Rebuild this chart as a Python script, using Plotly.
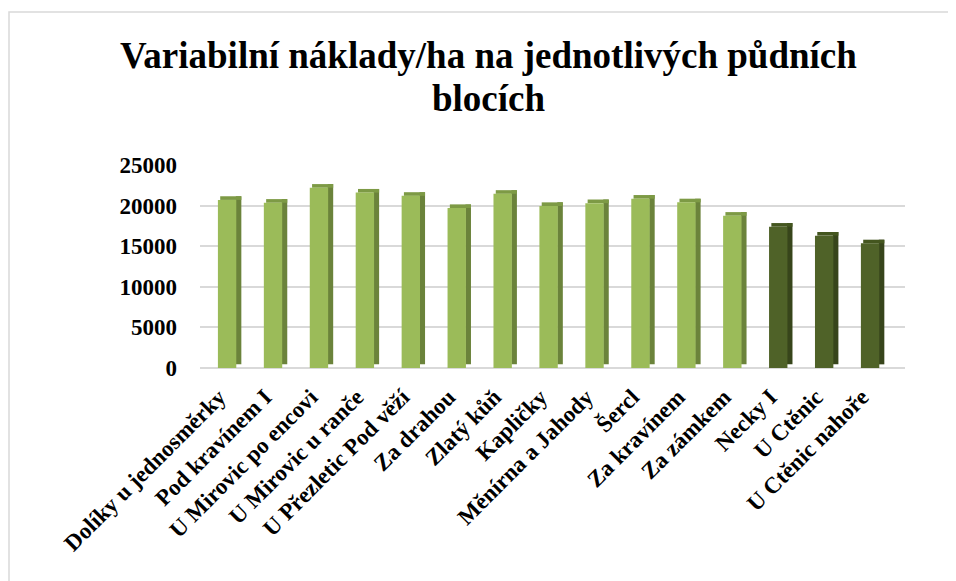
import plotly.graph_objects as go

categories = ["Dolíky u jednosměrky", "Pod kravínem I", "U Mirovic po encovi",
              "U Mirovic u ranče", "U Přezletic Pod věží", "Za drahou", "Zlatý kůň",
              "Kapličky", "Měnírna a Jahody", "Šercl", "Za kravínem", "Za zámkem",
              "Necky I", "U Ctěnic", "U Ctěnic nahoře"]
values = [20700, 20350, 22200, 21600, 21200, 19700, 21450,
          19950, 20300, 20850, 20400, 18750, 17400, 16300, 15350]
highlight = [False] * 12 + [True] * 3
y_ticks = [0, 5000, 10000, 15000, 20000, 25000]
y_tick_labels = ["0", "5000", "10000", "15000", "20000", "25000"]
title_lines = ["Variabilní náklady/ha na jednotlivých půdních", "blocích"]

front_cols = ["#4F6228" if h else "#9BBB59" for h in highlight]
side_cols = ["#37451B" if h else "#6B833B" for h in highlight]
top_cols = ["#44561F" if h else "#7D9A45" for h in highlight]

depth = 450
FONT = "Liberation Serif, Times New Roman, serif"

# plot area in figure pixels
L, R, T, B = 192, 897, 157, 360
W, H = R - L, B - T

fig = go.Figure()
# side face
fig.add_trace(go.Bar(x=categories, y=values, base=[depth] * len(values),
                     offset=0.19, width=0.12, marker=dict(color=side_cols, line=dict(width=0)),
                     hoverinfo="skip", showlegend=False))
# top face
fig.add_trace(go.Bar(x=categories, y=[depth] * len(values), base=values,
                     offset=-0.15, width=0.46, marker=dict(color=top_cols, line=dict(width=0)),
                     hoverinfo="skip", showlegend=False))
# front face
fig.add_trace(go.Bar(x=categories, y=values, offset=-0.2, width=0.4,
                     marker=dict(color=front_cols, line=dict(width=0)),
                     showlegend=False))

annotations = [
    dict(text=title_lines[0], xref="paper", yref="paper", x=(480 - L) / W,
         y=(B - 47) / H, xanchor="center", yanchor="middle", showarrow=False,
         font=dict(size=37, family=FONT, color="black", weight="bold")),
    dict(text=title_lines[1], xref="paper", yref="paper", x=(480 - L) / W,
         y=(B - 90) / H, xanchor="center", yanchor="middle", showarrow=False,
         font=dict(size=37, family=FONT, color="black", weight="bold")),
]

fig.update_layout(
    width=956, height=581,
    paper_bgcolor="white", plot_bgcolor="white",
    margin=dict(l=L, r=956 - R, t=T, b=581 - B, autoexpand=False),
    barmode="overlay",
    font=dict(family=FONT, color="black"),
    annotations=annotations,
    xaxis=dict(range=[-0.59, 14.76], tickangle=-45, showgrid=False, showline=False,
               ticks="", automargin=False, ticklabelstandoff=2, ticksuffix="\u00a0\u00a0",
               tickfont=dict(size=23, color="black", family=FONT, weight="bold")),
    yaxis=dict(range=[0, 25000], tickvals=y_ticks, ticktext=y_tick_labels,
               showgrid=True, gridcolor="#D9D9D9",
               gridwidth=1.5, zeroline=True, zerolinecolor="#D9D9D9", zerolinewidth=1.5,
               showline=False, ticks="", ticklabelstandoff=22, automargin=False,
               tickfont=dict(size=23, color="black", family=FONT, weight="bold")),
    shapes=[dict(type="rect", xref="paper", yref="paper",
                 x0=(1 - L) / W, x1=1.2, y0=-1.5, y1=(B - 4) / H,
                 line=dict(color="#D9D9D9", width=1.5), fillcolor="rgba(0,0,0,0)", layer="below")],
)

fig.write_html("out.html")
